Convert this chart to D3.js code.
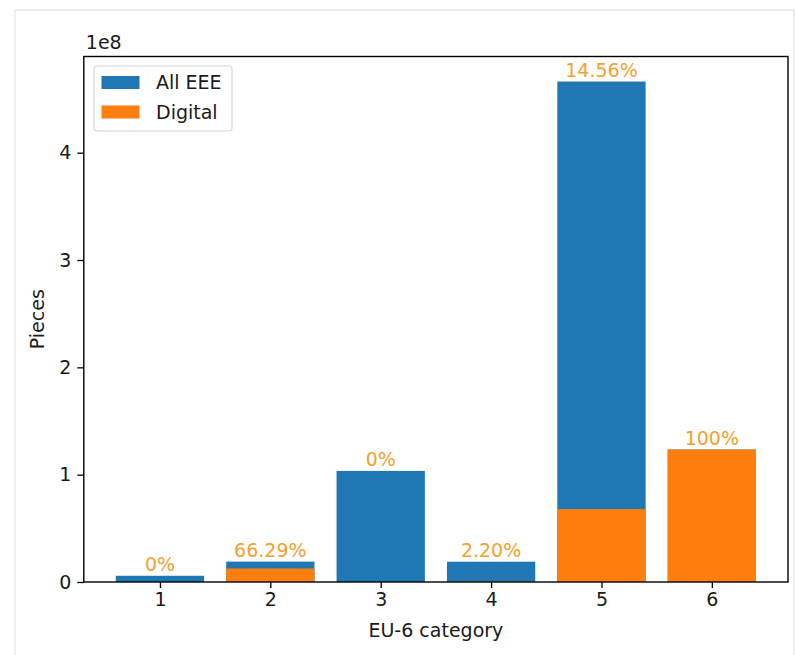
<!DOCTYPE html>
<html>
<head>
<meta charset="utf-8">
<script src="https://cdn.jsdelivr.net/npm/d3@7"></script>
<style>
  html, body { margin: 0; padding: 0; background: #fff; }
  svg { display: block; font-family: "DejaVu Sans", sans-serif; }
</style>
</head>
<body>
<script>
// EU-6 categories and piece counts
const categories = ["1", "2", "3", "4", "5", "6"];
const allEEE = [5.8e6, 1.9e7, 1.035e8, 1.89e7, 4.663e8, 1.234e8];
const digitalShare = [0, 0.6629, 0, 0.022, 0.1456, 1.0];
const shareLabels = ["0%", "66.29%", "0%", "2.20%", "14.56%", "100%"];
const digital = allEEE.map((v, i) => v * digitalShare[i]);
const yTicks = [0, 1e8, 2e8, 3e8, 4e8];

const W = 796, H = 655;
const m = { left: 83.8, right: 788, top: 56.5, bottom: 582 };
const FS = 19;

const svg = d3.select("body").append("svg").attr("width", W).attr("height", H);

// outer panel border
svg.append("rect").attr("x", 15).attr("y", 10).attr("width", 779).attr("height", 660)
  .attr("fill", "#fff").attr("stroke", "#e4e4e4").attr("stroke-width", 1.2);

const x = d3.scaleLinear().domain([0.31, 6.69]).range([m.left, m.right]);
const yMax = d3.max(allEEE) * 1.05;
const y = d3.scaleLinear().domain([0, yMax]).range([m.bottom, m.top]);
const bw = x(0.8) - x(0);

const blue = "#1f77b4", orange = "#ff7f0e", labelColor = "#f5a030";

// All EEE bars
svg.append("g").selectAll("rect").data(allEEE).join("rect")
  .attr("x", (d, i) => x(i + 1) - bw / 2)
  .attr("y", d => y(d))
  .attr("width", bw)
  .attr("height", d => y(0) - y(d))
  .attr("fill", blue);

// Digital bars
svg.append("g").selectAll("rect").data(digital).join("rect")
  .attr("x", (d, i) => x(i + 1) - bw / 2)
  .attr("y", d => y(d))
  .attr("width", bw)
  .attr("height", d => y(0) - y(d))
  .attr("fill", orange);

// share labels above each bar
svg.append("g").selectAll("text").data(shareLabels).join("text")
  .attr("x", (d, i) => x(i + 1))
  .attr("y", (d, i) => y(Math.max(allEEE[i], digital[i])) - 4.5)
  .attr("text-anchor", "middle")
  .attr("font-size", FS)
  .attr("fill", labelColor)
  .text(d => d);

// axes
const xAxis = d3.axisBottom(x).tickValues([1, 2, 3, 4, 5, 6])
  .tickFormat((d, i) => categories[i]).tickSize(6).tickPadding(5);
const gx = svg.append("g").attr("transform", `translate(0,${m.bottom})`).call(xAxis);
gx.select(".domain").remove();

const yAxis = d3.axisLeft(y).tickValues(yTicks).tickFormat(d => d / 1e8)
  .tickSize(6.5).tickPadding(6);
const gy = svg.append("g").attr("transform", `translate(${m.left},0)`).call(yAxis);
gy.select(".domain").remove();

[gx, gy].forEach(g => {
  g.selectAll(".tick line").attr("stroke", "#000").attr("stroke-width", 1.3);
  g.selectAll(".tick text").attr("font-size", FS).attr("fill", "#1a1a1a")
    .attr("font-family", "DejaVu Sans, sans-serif");
});

// spines
svg.append("rect").attr("x", m.left).attr("y", m.top)
  .attr("width", m.right - m.left).attr("height", m.bottom - m.top)
  .attr("fill", "none").attr("stroke", "#000").attr("stroke-width", 1.4);

// offset text for the y axis
svg.append("text").attr("x", m.left + 2).attr("y", 49).attr("font-size", FS)
  .attr("fill", "#1a1a1a").text("1e8");

// axis titles
svg.append("text").attr("x", (m.left + m.right) / 2).attr("y", 637)
  .attr("text-anchor", "middle").attr("font-size", FS).attr("fill", "#1a1a1a")
  .text("EU-6 category");
svg.append("text")
  .attr("transform", `translate(44,${(m.top + m.bottom) / 2}) rotate(-90)`)
  .attr("text-anchor", "middle").attr("font-size", FS).attr("fill", "#1a1a1a")
  .text("Pieces");

// legend
const leg = svg.append("g");
leg.append("rect").attr("x", 94).attr("y", 66).attr("width", 138).attr("height", 65)
  .attr("rx", 3.5).attr("fill", "#fff").attr("fill-opacity", 0.8)
  .attr("stroke", "#d6d6d6").attr("stroke-width", 1.2);
const legendItems = [{ name: "All EEE", color: blue }, { name: "Digital", color: orange }];
legendItems.forEach((it, i) => {
  const cy = 82.5 + i * 29.5;
  leg.append("rect").attr("x", 101.5).attr("y", cy - 6.5).attr("width", 38).attr("height", 13)
    .attr("fill", it.color);
  leg.append("text").attr("x", 156).attr("y", cy + 6.5).attr("font-size", FS)
    .attr("fill", "#1a1a1a").text(it.name);
});
</script>
</body>
</html>
